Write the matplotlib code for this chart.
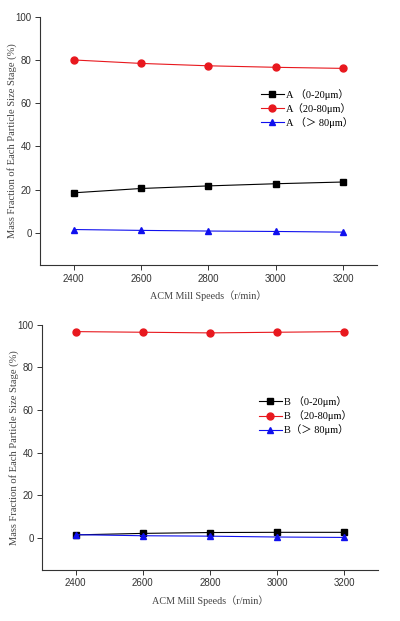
import numpy as np
import matplotlib
matplotlib.use('Agg')
import matplotlib.pyplot as plt

speeds = [2400, 2600, 2800, 3000, 3200]

# sample A
a_fine = [18.5, 20.5, 21.7, 22.7, 23.5]
a_mid = [80.0, 78.4, 77.3, 76.6, 76.1]
a_coarse = [1.5, 1.1, 0.8, 0.6, 0.3]

# sample B
b_fine = [1.5, 2.2, 2.6, 2.7, 2.7]
b_mid = [96.8, 96.5, 96.2, 96.5, 96.8]
b_coarse = [1.6, 1.1, 0.9, 0.5, 0.3]

labels_a = ['A \uff080-20\u03bcm\uff09', 'A\uff0820-80\u03bcm\uff09', 'A \uff08\uff1e 80\u03bcm\uff09']
labels_b = ['B \uff080-20\u03bcm\uff09', 'B \uff0820-80\u03bcm\uff09', 'B\uff08\uff1e 80\u03bcm\uff09']

serif = ['Liberation Serif', 'Noto Sans CJK SC']
sans = ['Liberation Sans', 'DejaVu Sans']

fig = plt.figure(figsize=(4, 6.21), dpi=100)
ax1 = fig.add_axes([0.1, 0.573, 0.8425, 0.40])
ax2 = fig.add_axes([0.105, 0.082, 0.84, 0.395])

def draw(ax, fine, mid, coarse, labels, legpos):
    ax.plot(speeds, fine, '-s', color='black', markerfacecolor='black', markersize=4.2, lw=0.8, label=labels[0])
    ax.plot(speeds, mid, '-o', color='#e8181e', markerfacecolor='#e8181e', markersize=5, lw=0.8, label=labels[1])
    ax.plot(speeds, coarse, '-^', color='#1010ee', markerfacecolor='#1010ee', markersize=5, lw=0.8, label=labels[2])
    ax.set_xlim(2300, 3300)
    ax.set_ylim(-15, 100)
    ax.set_xticks(speeds)
    ax.set_yticks([0, 20, 40, 60, 80, 100])
    ax.spines['top'].set_visible(False)
    ax.spines['right'].set_visible(False)
    for s in ['left', 'bottom']:
        ax.spines[s].set_linewidth(0.8)
        ax.spines[s].set_color('#333333')
    ax.tick_params(direction='out', length=3.5, width=0.7, pad=2.5, labelsize=7, colors='#333333')
    for t in ax.get_xticklabels() + ax.get_yticklabels():
        t.set_family(sans)
    ax.set_xlabel('ACM Mill Speeds\uff08r/min\uff09', family=serif, fontsize=7.3, color='#444444', labelpad=5)
    ax.set_ylabel('Mass Fraction of Each Particle Size Stage (%)', family=serif, fontsize=7.6, color='#444444', labelpad=-1)
    leg = ax.legend(loc='upper left', bbox_to_anchor=legpos, frameon=False,
                    prop={'family': serif, 'size': 7.5}, handlelength=2.2,
                    handletextpad=0.2, labelspacing=0.3, borderpad=0)
    return leg

draw(ax1, a_fine, a_mid, a_coarse, labels_a, (0.64, 0.73))
draw(ax2, b_fine, b_mid, b_coarse, labels_b, (0.63, 0.73))

fig.savefig('out.png', dpi=100)
